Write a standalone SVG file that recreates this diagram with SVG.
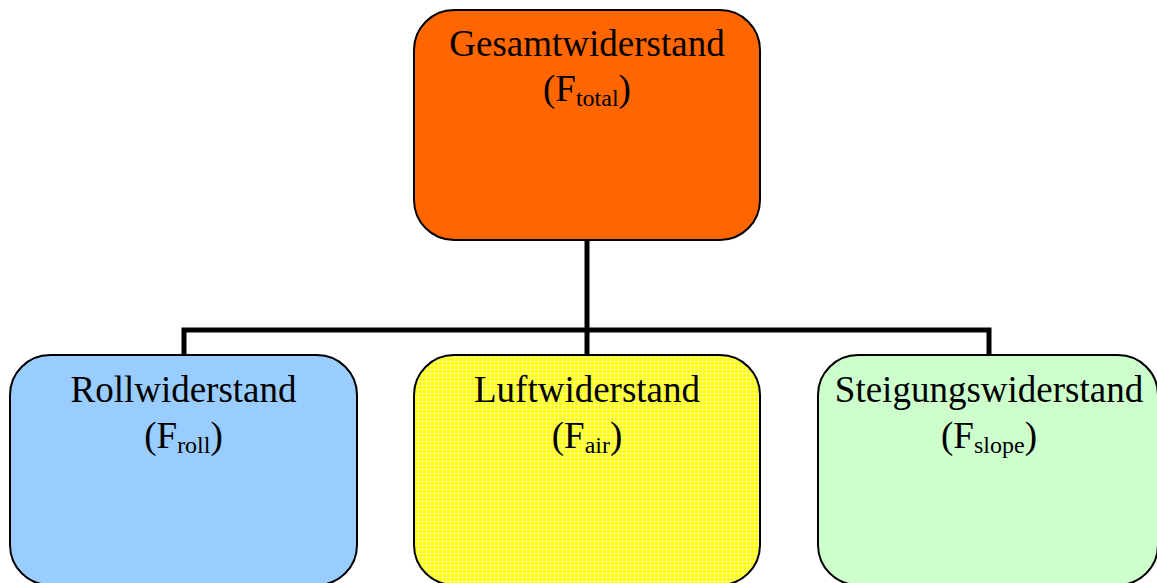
<svg xmlns="http://www.w3.org/2000/svg" width="1157" height="583" viewBox="0 0 1157 583">
<style>
.box{stroke:#000;stroke-width:2}
.t{font-family:"Liberation Serif","Times New Roman",serif;font-size:37px;fill:#000;text-anchor:middle}
.sub{font-size:24px}
.conn{fill:none;stroke:#000;stroke-width:5}
</style>
<defs>
<pattern id="grid" width="4" height="4" patternUnits="userSpaceOnUse">
<rect width="4" height="4" fill="#FFFF00"/>
<rect x="0" y="1" width="4" height="1" fill="#FFFF88"/>
<rect x="2" y="0" width="1" height="4" fill="#FFFF88"/>
</pattern>
</defs>
<rect width="1157" height="583" fill="#fff"/>
<g id="connectors">
<line class="conn" x1="587" y1="239" x2="587" y2="356"/>
<polyline class="conn" points="184,356 184,330 989,330 989,356"/>
</g>
<g id="total">
<rect class="box" x="414" y="10" width="346" height="230" rx="40" ry="40" fill="#FF6600"/>
<text class="t" x="587" y="56">Gesamtwiderstand</text>
<text class="t" x="587" y="101">(F<tspan class="sub" dy="5">total</tspan><tspan dy="-5">)</tspan></text>
</g>
<g id="roll">
<rect class="box" x="10" y="355" width="347" height="230" rx="40" ry="40" fill="#99CCFF"/>
<text class="t" x="183.5" y="402">Rollwiderstand</text>
<text class="t" x="183.5" y="448">(F<tspan class="sub" dy="5">roll</tspan><tspan dy="-5">)</tspan></text>
</g>
<g id="air">
<rect class="box" x="414" y="355" width="346" height="230" rx="40" ry="40" fill="url(#grid)"/>
<text class="t" x="587" y="402">Luftwiderstand</text>
<text class="t" x="587" y="448">(F<tspan class="sub" dy="5">air</tspan><tspan dy="-5">)</tspan></text>
</g>
<g id="slope">
<rect class="box" x="818" y="355" width="340" height="230" rx="40" ry="40" fill="#CCFFCC"/>
<text class="t" x="989" y="402">Steigungswiderstand</text>
<text class="t" x="989" y="448">(F<tspan class="sub" dy="5">slope</tspan><tspan dy="-5">)</tspan></text>
</g>
</svg>
